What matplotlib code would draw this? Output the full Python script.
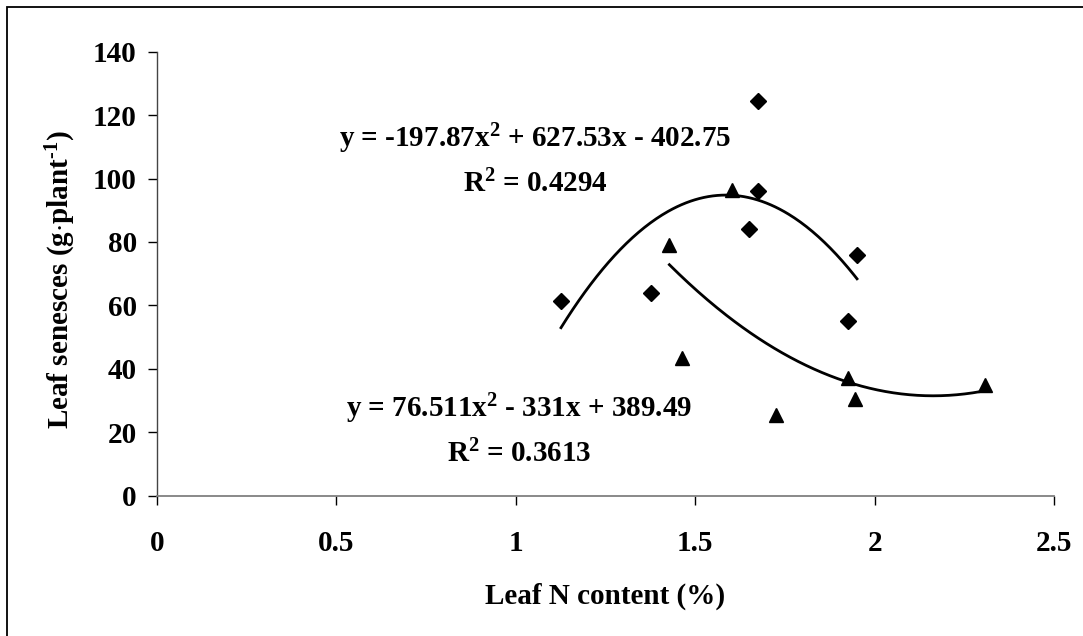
import matplotlib
matplotlib.use("Agg")
import matplotlib.pyplot as plt
import numpy as np
from matplotlib.patches import Rectangle

plt.rcParams["font.family"] = "Liberation Serif"
plt.rcParams["font.weight"] = "bold"
plt.rcParams["mathtext.fontset"] = "custom"
plt.rcParams["mathtext.rm"] = "Liberation Serif:bold"
plt.rcParams["mathtext.bf"] = "Liberation Serif:bold"
plt.rcParams["mathtext.it"] = "Liberation Serif:bold"

# diamonds
n_diamond = [1.126, 1.377, 1.649, 1.674, 1.674, 1.925, 1.951]
sen_diamond = [61.4, 63.9, 84.0, 96.2, 124.5, 55.2, 75.9]
# triangles
n_triangle = [1.428, 1.464, 1.602, 1.725, 1.925, 1.945, 2.309]
sen_triangle = [79.0, 43.3, 96.4, 25.4, 37.0, 30.4, 34.9]

# trendline coefficients as printed on the chart
coef_diamond = [-197.87, 627.53, -402.75]
coef_triangle = [76.511, -331.0, 389.49]
r2_diamond = 0.4294
r2_triangle = 0.3613

xticks = [0, 0.5, 1, 1.5, 2, 2.5]
xticklabels = ["0", "0.5", "1", "1.5", "2", "2.5"]
yticks = [0, 20, 40, 60, 80, 100, 120, 140]

fig = plt.figure(figsize=(10.83, 6.36), dpi=100)
ax = fig.add_axes([157 / 1083, 1 - 495.7 / 636, (1054 - 157) / 1083, 444 / 636])

# outer chart border (right/bottom edges fall outside the picture)
fig.add_artist(Rectangle((7 / 1083, -0.1), 1.2, 1.1 - 7 / 636, transform=fig.transFigure,
                         fill=False, edgecolor="black", linewidth=1.3))

ax.plot(n_diamond, sen_diamond, linestyle="none", marker="D", color="black", markersize=8)
ax.plot(n_triangle, sen_triangle, linestyle="none", marker="^", color="black", markersize=10)

xd = np.linspace(min(n_diamond), max(n_diamond), 200)
ax.plot(xd, np.polyval(coef_diamond, xd), color="black", linewidth=2)
xt = np.linspace(min(n_triangle), max(n_triangle), 200)
ax.plot(xt, np.polyval(coef_triangle, xt), color="black", linewidth=2)

fs = 21
ax.text(1.054, 110.0, "y = %.2fx$^2$ + %.2fx - %.2f" % (coef_diamond[0], coef_diamond[1], -coef_diamond[2]),
        ha="center", va="baseline", fontsize=fs, fontweight="bold")
ax.text(1.054, 95.8, "R$^2$ = %.4f" % r2_diamond, ha="center", va="baseline", fontsize=fs, fontweight="bold")
ax.text(1.009, 24.8, "y = %.3fx$^2$ - %dx + %.2f" % (coef_triangle[0], -coef_triangle[1], coef_triangle[2]),
        ha="center", va="baseline", fontsize=fs, fontweight="bold")
ax.text(1.009, 10.6, "R$^2$ = %.4f" % r2_triangle, ha="center", va="baseline", fontsize=fs, fontweight="bold")

ax.set_xlim(0, 2.5)
ax.set_ylim(0, 140)
ax.set_xticks(xticks)
ax.set_xticklabels(xticklabels)
ax.set_yticks(yticks)

for s in ["top", "right"]:
    ax.spines[s].set_visible(False)
ax.spines["left"].set_color("#444444")
ax.spines["bottom"].set_color("#808080")
ax.spines["left"].set_linewidth(1.0)
ax.spines["bottom"].set_linewidth(1.3)

ax.tick_params(axis="both", direction="out", length=6.5, width=1, color="black", labelsize=fs)
ax.tick_params(axis="x", pad=18)
ax.tick_params(axis="y", pad=8)
for lbl in ax.get_xticklabels() + ax.get_yticklabels():
    lbl.set_fontweight("bold")

ax.set_xlabel("Leaf N content (%)", fontsize=fs, fontweight="bold")
ax.xaxis.set_label_coords(0.5, -(596 - 495.7) / 444, transform=ax.transAxes)
ax.xaxis.label.set_va("center")
ax.set_ylabel("Leaf senesces (g$\\cdot$plant$^{\\text{-}1}$)", fontsize=fs, fontweight="bold")
ax.yaxis.set_label_coords(-(157 - 61) / 897, (495.7 - 280) / 444)
ax.yaxis.label.set_va("center")

fig.savefig("out.png", dpi=100)
